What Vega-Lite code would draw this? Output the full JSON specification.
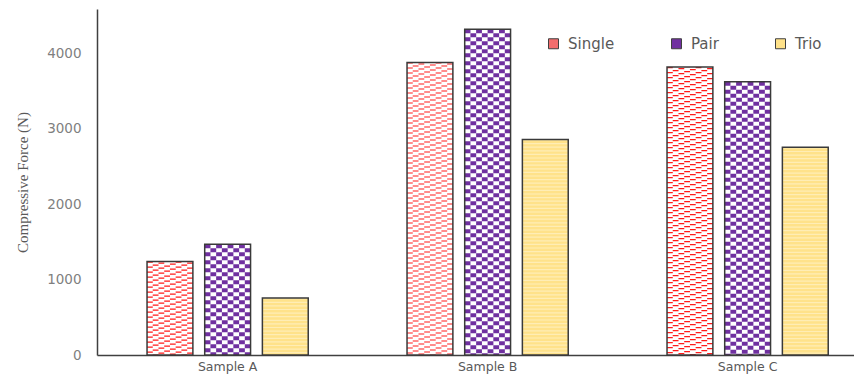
{
  "$schema": "https://vega.github.io/schema/vega-lite/v6.json",
  "width": 757,
  "height": 346,
  "autosize": {"type": "none"},
  "padding": {"left": 97, "top": 9, "right": 0, "bottom": 21},
  "background": "white",
  "config": {"view": {"stroke": null}, "font": "DejaVu Sans"},
  "data": {
    "values": [
      {"sample": "Sample A", "series": "Single", "force": 1240},
      {"sample": "Sample A", "series": "Pair", "force": 1470},
      {"sample": "Sample A", "series": "Trio", "force": 755},
      {"sample": "Sample B", "series": "Single", "force": 3880},
      {"sample": "Sample B", "series": "Pair", "force": 4320},
      {"sample": "Sample B", "series": "Trio", "force": 2860},
      {"sample": "Sample C", "series": "Single", "force": 3820},
      {"sample": "Sample C", "series": "Pair", "force": 3625},
      {"sample": "Sample C", "series": "Trio", "force": 2755}
    ]
  },
  "encoding": {
    "x": {
      "field": "sample",
      "type": "nominal",
      "scale": {"paddingInner": 0.38, "paddingOuter": 0.1458, "align": 0.66},
      "axis": {
        "title": null,
        "labelAngle": 0,
        "ticks": false,
        "domainColor": "#404040",
        "domainWidth": 1.5,
        "labelFont": "DejaVu Sans",
        "labelFontSize": 12.5,
        "labelColor": "#595959",
        "labelPadding": 5
      }
    },
    "y": {
      "field": "force",
      "type": "quantitative",
      "scale": {"domain": [0, 4590], "nice": false},
      "axis": {
        "values": [0, 1000, 2000, 3000, 4000],
        "format": "d",
        "ticks": false,
        "grid": false,
        "domainColor": "#404040",
        "domainWidth": 1.5,
        "labelFont": "DejaVu Sans",
        "labelFontSize": 13.5,
        "labelColor": "#7F7F7F",
        "labelPadding": 16,
        "title": "Compressive Force (N)",
        "titleFont": "Liberation Serif",
        "titleFontSize": 15,
        "titleFontWeight": "normal",
        "titleColor": "#595959",
        "titlePadding": 16
      }
    }
  },
  "layer": [
    {
      "mark": {"type": "bar"},
      "encoding": {
        "xOffset": {"field": "series", "type": "nominal", "sort": ["Single", "Pair", "Trio"], "scale": {"paddingInner": 0.205, "paddingOuter": 0}},
        "fill": {
          "field": "series",
          "type": "nominal",
          "sort": ["Single", "Pair", "Trio"],
          "scale": {"domain": ["Single", "Pair", "Trio"], "range": ["#F26D6D", "#7030A0", "#FFE28A"]},
          "legend": {
            "title": null,
            "orient": "none",
            "legendX": 449,
            "legendY": 27,
            "direction": "horizontal",
            "columns": 3,
            "columnPadding": 54,
            "symbolType": "square",
            "symbolSize": 100,
            "symbolStrokeColor": "#404040",
            "symbolStrokeWidth": 1,
            "labelFont": "DejaVu Sans",
            "labelFontSize": 15,
            "labelColor": "#595959",
            "labelOffset": 7
          }
        }
      }
    },
    {
      "transform": [{"filter": "datum.series !== 'Trio'"}],
      "mark": {"type": "bar", "fill": "white"},
      "encoding": {"xOffset": {"field": "series", "type": "nominal", "sort": ["Single", "Pair", "Trio"]}}
    },
    {"transform": [{"filter": "datum.series === 'Single'"}], "mark": {"type": "rule", "stroke": "#FF1A1A", "strokeWidth": 5.8, "strokeDash": [1.1, 3.9], "strokeDashOffset": 0}, "encoding": {"x": {"field": "sample", "type": "nominal", "bandPosition": 0.01778}, "y2": {"datum": 0}}},
    {"transform": [{"filter": "datum.series === 'Single'"}], "mark": {"type": "rule", "stroke": "#FF1A1A", "strokeWidth": 5.8, "strokeDash": [1.1, 3.9], "strokeDashOffset": 2}, "encoding": {"x": {"field": "sample", "type": "nominal", "bandPosition": 0.05333}, "y2": {"datum": 0}}},
    {"transform": [{"filter": "datum.series === 'Single'"}], "mark": {"type": "rule", "stroke": "#FF1A1A", "strokeWidth": 5.8, "strokeDash": [1.1, 3.9], "strokeDashOffset": 4}, "encoding": {"x": {"field": "sample", "type": "nominal", "bandPosition": 0.08889}, "y2": {"datum": 0}}},
    {"transform": [{"filter": "datum.series === 'Single'"}], "mark": {"type": "rule", "stroke": "#FF1A1A", "strokeWidth": 5.8, "strokeDash": [1.1, 3.9], "strokeDashOffset": 1}, "encoding": {"x": {"field": "sample", "type": "nominal", "bandPosition": 0.12444}, "y2": {"datum": 0}}},
    {"transform": [{"filter": "datum.series === 'Single'"}], "mark": {"type": "rule", "stroke": "#FF1A1A", "strokeWidth": 5.8, "strokeDash": [1.1, 3.9], "strokeDashOffset": 3}, "encoding": {"x": {"field": "sample", "type": "nominal", "bandPosition": 0.16}, "y2": {"datum": 0}}},
    {"transform": [{"filter": "datum.series === 'Single'"}], "mark": {"type": "rule", "stroke": "#FF1A1A", "strokeWidth": 5.8, "strokeDash": [1.1, 3.9], "strokeDashOffset": 0}, "encoding": {"x": {"field": "sample", "type": "nominal", "bandPosition": 0.19555}, "y2": {"datum": 0}}},
    {"transform": [{"filter": "datum.series === 'Single'"}], "mark": {"type": "rule", "stroke": "#FF1A1A", "strokeWidth": 5.8, "strokeDash": [1.1, 3.9], "strokeDashOffset": 2}, "encoding": {"x": {"field": "sample", "type": "nominal", "bandPosition": 0.23111}, "y2": {"datum": 0}}},
    {"transform": [{"filter": "datum.series === 'Single'"}], "mark": {"type": "rule", "stroke": "#FF1A1A", "strokeWidth": 5.8, "strokeDash": [1.1, 3.9], "strokeDashOffset": 4}, "encoding": {"x": {"field": "sample", "type": "nominal", "bandPosition": 0.26666}, "y2": {"datum": 0}}},
    {"transform": [{"filter": "datum.series === 'Pair'"}], "mark": {"type": "rule", "stroke": "#7030A0", "strokeWidth": 5.8, "strokeDash": [4, 4], "strokeDashOffset": 0}, "encoding": {"x": {"field": "sample", "type": "nominal", "bandPosition": 0.37556}, "y2": {"datum": 0}}},
    {"transform": [{"filter": "datum.series === 'Pair'"}], "mark": {"type": "rule", "stroke": "#7030A0", "strokeWidth": 5.8, "strokeDash": [4, 4], "strokeDashOffset": 4}, "encoding": {"x": {"field": "sample", "type": "nominal", "bandPosition": 0.41111}, "y2": {"datum": 0}}},
    {"transform": [{"filter": "datum.series === 'Pair'"}], "mark": {"type": "rule", "stroke": "#7030A0", "strokeWidth": 5.8, "strokeDash": [4, 4], "strokeDashOffset": 0}, "encoding": {"x": {"field": "sample", "type": "nominal", "bandPosition": 0.44666}, "y2": {"datum": 0}}},
    {"transform": [{"filter": "datum.series === 'Pair'"}], "mark": {"type": "rule", "stroke": "#7030A0", "strokeWidth": 5.8, "strokeDash": [4, 4], "strokeDashOffset": 4}, "encoding": {"x": {"field": "sample", "type": "nominal", "bandPosition": 0.48221}, "y2": {"datum": 0}}},
    {"transform": [{"filter": "datum.series === 'Pair'"}], "mark": {"type": "rule", "stroke": "#7030A0", "strokeWidth": 5.8, "strokeDash": [4, 4], "strokeDashOffset": 0}, "encoding": {"x": {"field": "sample", "type": "nominal", "bandPosition": 0.51777}, "y2": {"datum": 0}}},
    {"transform": [{"filter": "datum.series === 'Pair'"}], "mark": {"type": "rule", "stroke": "#7030A0", "strokeWidth": 5.8, "strokeDash": [4, 4], "strokeDashOffset": 4}, "encoding": {"x": {"field": "sample", "type": "nominal", "bandPosition": 0.55332}, "y2": {"datum": 0}}},
    {"transform": [{"filter": "datum.series === 'Pair'"}], "mark": {"type": "rule", "stroke": "#7030A0", "strokeWidth": 5.8, "strokeDash": [4, 4], "strokeDashOffset": 0}, "encoding": {"x": {"field": "sample", "type": "nominal", "bandPosition": 0.58887}, "y2": {"datum": 0}}},
    {"transform": [{"filter": "datum.series === 'Pair'"}], "mark": {"type": "rule", "stroke": "#7030A0", "strokeWidth": 5.8, "strokeDash": [4, 4], "strokeDashOffset": 4}, "encoding": {"x": {"field": "sample", "type": "nominal", "bandPosition": 0.62443}, "y2": {"datum": 0}}},
    {"transform": [{"filter": "datum.series === 'Trio'"}], "mark": {"type": "rule", "stroke": "#FFEDB5", "strokeWidth": 45, "strokeDash": [1.2, 2.4], "strokeDashOffset": 0}, "encoding": {"x": {"field": "sample", "type": "nominal", "bandPosition": 0.85777}, "y2": {"datum": 0}}},
    {
      "mark": {"type": "bar", "fillOpacity": 0, "stroke": "#3A3A3A", "strokeWidth": 1.5},
      "encoding": {"xOffset": {"field": "series", "type": "nominal", "sort": ["Single", "Pair", "Trio"]}}
    }
  ]
}
